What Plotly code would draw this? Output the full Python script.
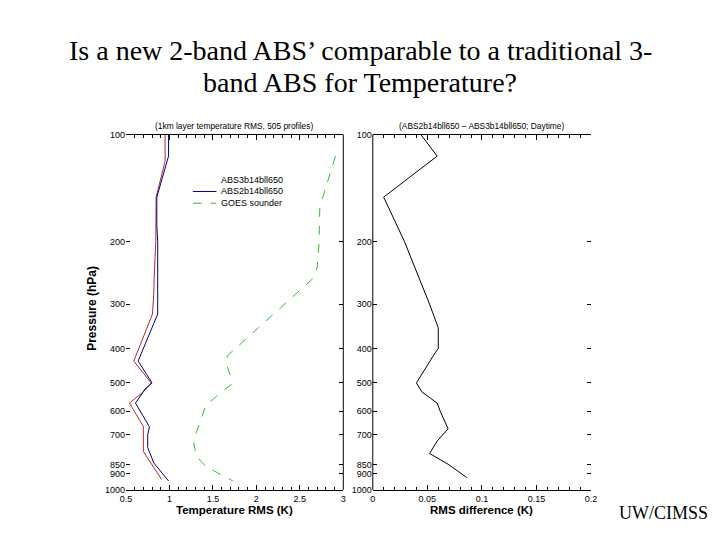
import plotly.graph_objects as go

# ---- data ----
p_abs3 = [100, 119, 150, 200, 250, 280, 320, 434, 500, 530, 570, 663, 780, 935]
t_abs3 = [0.95, 0.95, 0.847, 0.843, 0.825, 0.82, 0.805, 0.59, 0.79, 0.70, 0.54, 0.70, 0.70, 0.91]

p_abs2 = [100, 115, 150, 180, 200, 320, 434, 500, 520, 545, 570, 665, 700, 760, 840, 944]
t_abs2 = [0.99, 0.99, 0.855, 0.855, 0.865, 0.865, 0.64, 0.80, 0.72, 0.66, 0.61, 0.77, 0.75, 0.75, 0.82, 0.99]

p_goes = [115, 160, 205, 236, 253, 420, 450, 475, 506, 530, 578, 690, 740, 804, 860, 944]
t_goes = [2.91, 2.73, 2.72, 2.70, 2.66, 1.665, 1.665, 1.70, 1.71, 1.60, 1.42, 1.31, 1.28, 1.31, 1.42, 1.73]

p_diff = [100, 115, 150, 200, 300, 350, 400, 412, 500, 530, 570, 603, 673, 729, 790, 847, 923]
d_diff = [0.044, 0.059, 0.010, 0.029, 0.052, 0.060, 0.060, 0.057, 0.040, 0.045, 0.059, 0.062, 0.069, 0.059, 0.052, 0.069, 0.086]

p_ticks = [100, 200, 300, 400, 500, 600, 700, 850, 900, 1000]
p_ticklabels = ["100", "200", "300", "400", "500", "600", "700", "850", "900", "1000"]
x1_ticks = [0.5, 1, 1.5, 2, 2.5, 3]
x1_ticklabels = ["0.5", "1", "1.5", "2", "2.5", "3"]
x2_ticks = [0, 0.05, 0.1, 0.15, 0.2]
x2_ticklabels = ["0", "0.05", "0.1", "0.15", "0.2"]

series_names = ["ABS3b14bll650", "ABS2b14bll650", "GOES sounder"]
series_colors = ["#b02a2a", "#000080", "#33bb33"]
series_dash = ["solid", "solid", "dash"]

fig = go.Figure()
for xs, ys, nm, col, dsh in zip([t_abs3, t_abs2, t_goes], [p_abs3, p_abs2, p_goes],
                                series_names, series_colors, series_dash):
    fig.add_trace(go.Scatter(x=xs, y=ys, mode="lines", name=nm, showlegend=False,
                             line=dict(color=col, width=1, dash=dsh), xaxis="x", yaxis="y"))
fig.add_trace(go.Scatter(x=d_diff, y=p_diff, mode="lines", showlegend=False,
                         line=dict(color="black", width=1), xaxis="x2", yaxis="y2"))

tickfont = dict(family="Liberation Sans, Arial", size=9, color="black")
common_x = dict(showline=True, linecolor="black", linewidth=1, mirror="ticks",
                ticks="inside", ticklen=5, tickcolor="black", showgrid=False,
                zeroline=False, tickfont=tickfont, ticklabelstandoff=0)
common_y = dict(type="log", range=[3, 2], showline=False, mirror="ticks",
                ticks="inside", ticklen=4, tickcolor="black", showgrid=False,
                zeroline=False, tickfont=tickfont, tickmode="array",
                tickvals=p_ticks, ticktext=p_ticklabels)

ydom = [1 - 494 / 540, 1 - 132 / 540]
fig.update_layout(
    width=720, height=540,
    margin=dict(l=0, r=0, t=0, b=0),
    paper_bgcolor="white", plot_bgcolor="white",
    showlegend=False,
    xaxis=dict(domain=[122 / 720, 343 / 720], range=[0.5, 3], tickmode="array",
               tickvals=x1_ticks, ticktext=x1_ticklabels, anchor="y",
               minor=dict(ticks="inside", ticklen=3, tickcolor="black", dtick=0.1),
               **common_x),
    yaxis=dict(domain=ydom, anchor="x", **common_y),
    xaxis2=dict(domain=[373 / 720, 595 / 720], range=[0, 0.2], tickmode="array",
                tickvals=x2_ticks, ticktext=x2_ticklabels, anchor="y2",
                minor=dict(ticks="inside", ticklen=3, tickcolor="black", dtick=0.01),
                **common_x),
    yaxis2=dict(domain=ydom, anchor="x2", **common_y),
    font=dict(family="Liberation Sans, Arial", color="black"),
)

# border lines: right side of left panel, left side of right panel
fig.add_shape(type="line", xref="x domain", yref="y domain", x0=1, x1=1, y0=0, y1=1,
              line=dict(color="black", width=1))
fig.add_shape(type="line", xref="x2 domain", yref="y2 domain", x0=0, x1=0, y0=0, y1=1,
              line=dict(color="black", width=1))

# compact legend (key lines + labels)
leg_y = [178, 190, 202]
for i, (nm, col, dsh) in enumerate(zip(series_names, series_colors, series_dash)):
    yy = 1 - leg_y[i] / 540
    if i > 0:
        fig.add_shape(type="line", xref="paper", yref="paper", x0=190 / 720, x1=214 / 720,
                      y0=yy, y1=yy, line=dict(color=col, width=1, dash=dsh))
    fig.add_annotation(text=nm, x=217 / 720, y=yy, xref="paper", yref="paper",
                       xanchor="left", yanchor="middle", showarrow=False,
                       font=dict(size=9))

serif = dict(family="Liberation Serif, Times New Roman", color="black")
fig.add_annotation(text="Is a new 2-band ABS’ comparable to a traditional 3-",
                   x=0.5, y=1 - 46 / 540, xref="paper", yref="paper", xanchor="center", yanchor="middle",
                   showarrow=False, font=dict(size=28, **serif))
fig.add_annotation(text="band ABS for Temperature?",
                   x=0.5, y=1 - 79 / 540, xref="paper", yref="paper", xanchor="center", yanchor="middle",
                   showarrow=False, font=dict(size=28, **serif))
fig.add_annotation(text="(1km layer temperature RMS, 505 profiles)", x=232 / 720, y=1 - 123 / 540,
                   xref="paper", yref="paper", xanchor="center", yanchor="middle",
                   showarrow=False, font=dict(size=8.4))
fig.add_annotation(text="(ABS2b14bll650 – ABS3b14bll650; Daytime)", x=484 / 720, y=1 - 123 / 540,
                   xref="paper", yref="paper", xanchor="center", yanchor="middle",
                   showarrow=False, font=dict(size=8.4))
fig.add_annotation(text="<b>Temperature RMS (K)</b>", x=232 / 720, y=1 - 515 / 540,
                   xref="paper", yref="paper", xanchor="center", yanchor="middle",
                   showarrow=False, font=dict(size=11.5))
fig.add_annotation(text="<b>RMS difference (K)</b>", x=484 / 720, y=1 - 515 / 540,
                   xref="paper", yref="paper", xanchor="center", yanchor="middle",
                   showarrow=False, font=dict(size=11.5))
fig.add_annotation(text="<b>Pressure (hPa)</b>", x=88 / 720, y=1 - 309 / 540, textangle=-90,
                   xref="paper", yref="paper", xanchor="center", yanchor="middle",
                   showarrow=False, font=dict(size=12))
fig.add_annotation(text="UW/CIMSS", x=716 / 720, y=1 - 518 / 540, xanchor="right", yanchor="middle",
                   xref="paper", yref="paper", showarrow=False, font=dict(size=18, **serif))

fig.write_html("out.html", config={"displayModeBar": False},
               post_script="document.body.style.margin='0';document.body.style.overflow='hidden';")
